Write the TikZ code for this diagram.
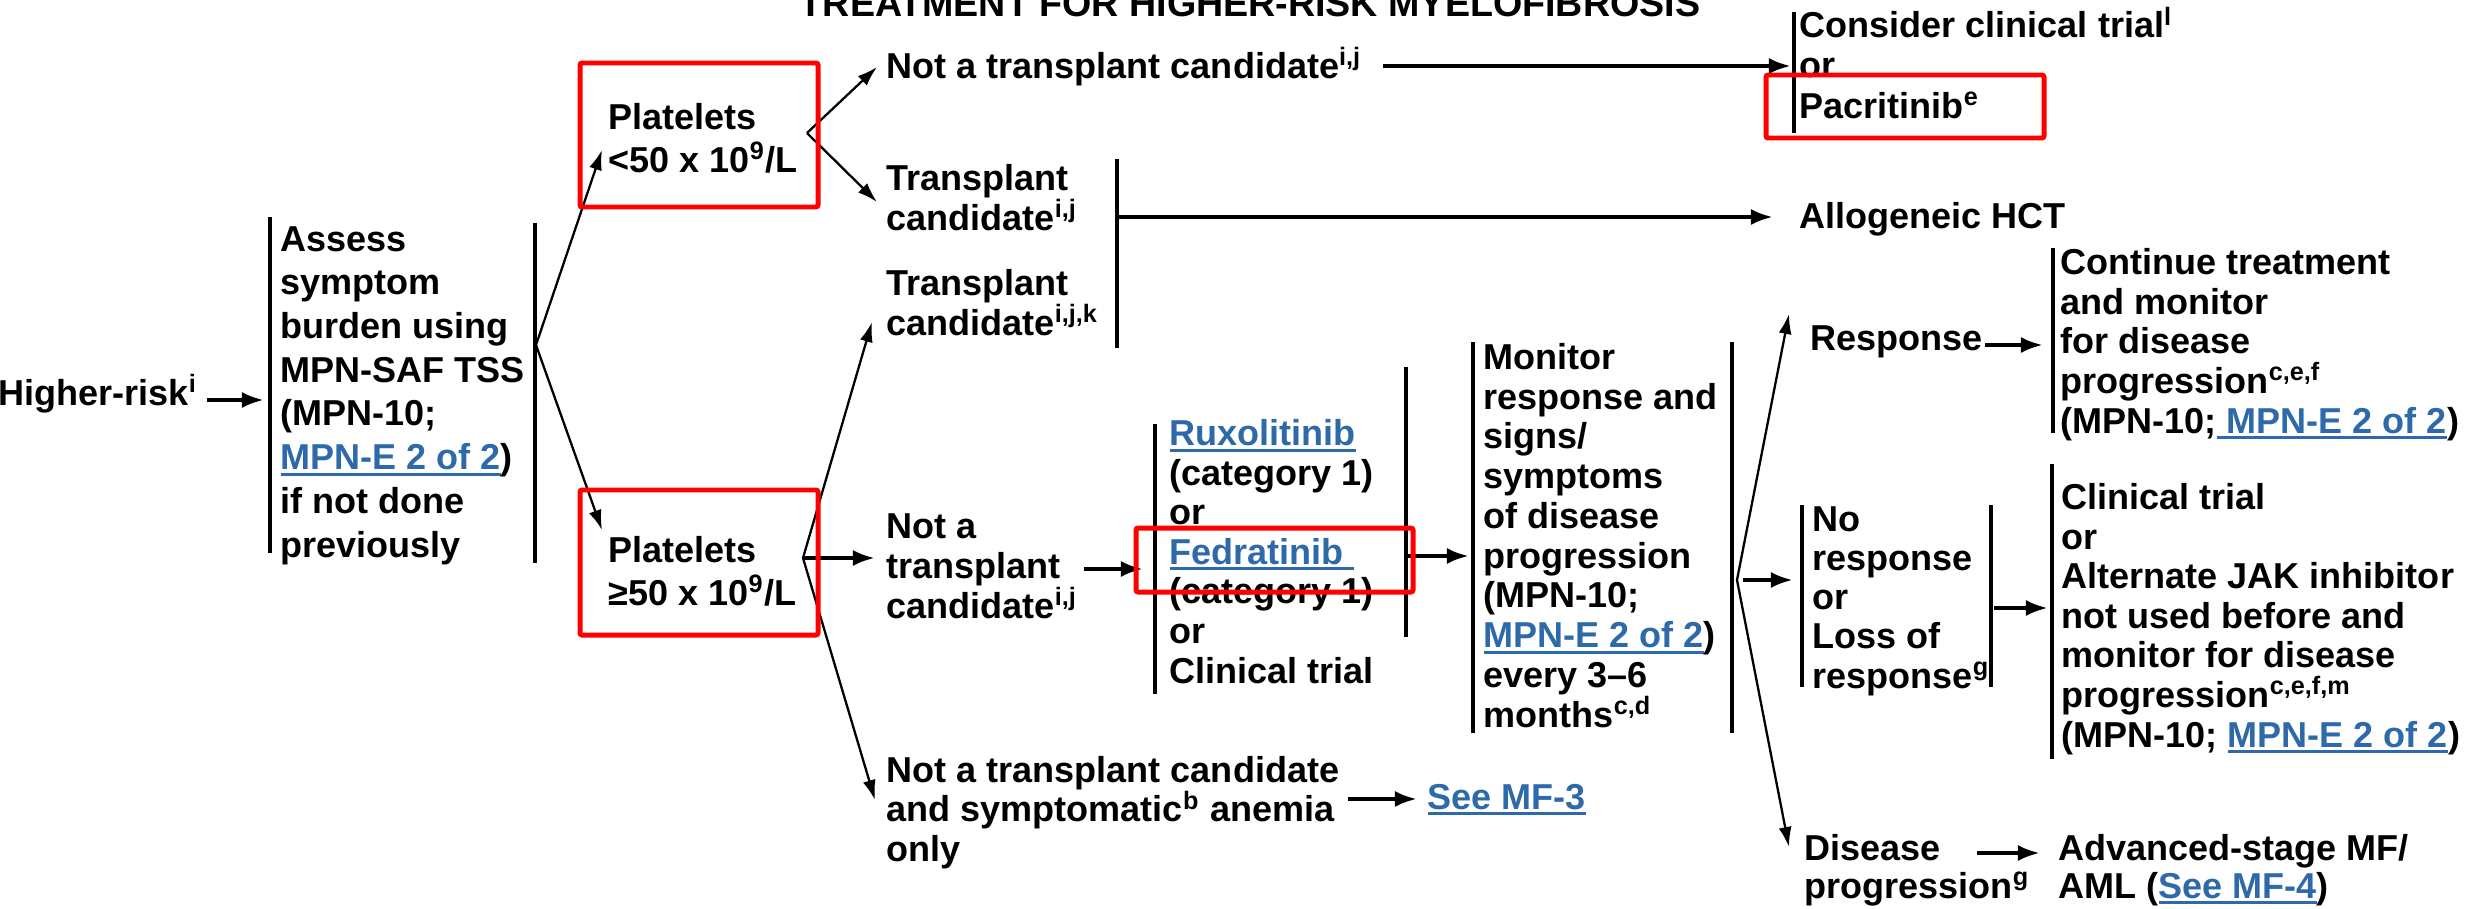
\documentclass[tikz,border=0pt]{standalone}
\usepackage{fontspec}
\setmainfont{Liberation Sans}
\usetikzlibrary{arrows.meta}
\definecolor{linkblue}{RGB}{46,106,170}
\definecolor{boxred}{RGB}{255,0,0}
% underlined blue cross-reference
\newcommand\lnk[1]{{\color{linkblue}\setbox0\hbox{#1}\rlap{\rule[-1.7pt]{\wd0}{0.85pt}}\box0}}
% multi-line text nodes are placed by the baseline of their last line
\tikzset{
  txt/.style={anchor=base west, inner sep=0pt, align=left,
              font=\bfseries\fontsize{10.245}{#1}\selectfont},
  txt/.default=11.24pt,
  ttl/.style={anchor=base, inner sep=0pt, font=\bfseries\fontsize{10.7}{12}\selectfont},
  bar/.style={line width=1.28pt},
  harrow/.style={line width=1.14pt, -{Latex[length=0.22cm,width=0.16cm]}},
  darrow/.style={line width=0.65pt, -{Latex[length=0.2cm,width=0.13cm]}},
  redbox/.style={draw=boxred, line width=1.42pt, rounded corners=0.6pt}
}
\begin{document}
\begin{tikzpicture}[x=0.01cm,y=-0.01cm]
\useasboundingbox (0,0) rectangle (2471,909);

% heading
\node[ttl] (title) at (1250,16) {TREATMENT FOR HIGHER-RISK MYELOFIBROSIS};

% text blocks
\node[txt] (hr) at (-2,405) {Higher-risk\textsuperscript{i}};
\node[txt=12.43pt] (assess) at (280,557) {Assess\\symptom\\burden using\\MPN-SAF TSS\\(MPN-10;\\\lnk{MPN-E 2 of 2})\\if not done\\previously};
\node[txt=11.95pt] (plow) at (608,172) {Platelets\\<50 x 10\textsuperscript{9}/L};
\node[txt=12.2pt] (phigh) at (608,605) {Platelets\\≥50 x 10\textsuperscript{9}/L};
\node[txt] (ntc1) at (886,78) {Not a transplant candidate\textsuperscript{i,j}};
\node[txt=11.3pt] (tc1) at (886,230) {Transplant\\candidate\textsuperscript{i,j}};
\node[txt=11.1pt] (tc2) at (886,335) {Transplant\\candidate\textsuperscript{i,j,k}};
\node[txt] (ntc2) at (886,618) {Not a\\transplant\\candidate\textsuperscript{i,j}};
\node[txt=11.1pt] (ntc3) at (886,861) {Not a transplant candidate\\and symptomatic\textsuperscript{b} anemia\\only};
\node[txt] (mf3) at (1427,809) {\lnk{See MF-3}};
\node[txt] (rux) at (1169,683) {\lnk{Ruxolitinib}\\(category 1)\\or\\\lnk{Fedratinib }\\(category 1)\\or\\Clinical trial};
\node[txt=11.3pt] (mon) at (1483,727) {Monitor\\response and\\signs/\\symptoms\\of disease\\progression\\(MPN-10;\\\lnk{MPN-E 2 of 2})\\every 3–6\\months\textsuperscript{c,d}};
\node[txt=11.38pt] (cons) at (1799,118) {Consider clinical trial\textsuperscript{l}\\or\\Pacritinib\textsuperscript{e}};
\node[txt] (allo) at (1799,228) {Allogeneic HCT};
\node[txt] (resp) at (1810,350) {Response};
\node[txt] (cont) at (2060,433) {Continue treatment\\and monitor\\for disease\\progression\textsuperscript{c,e,f}\\(MPN-10;\lnk{ MPN-E 2 of 2})};
\node[txt=11.1pt] (nores) at (1812,688) {No\\response\\or\\Loss of\\response\textsuperscript{g}};
\node[txt] (clin) at (2061,747) {Clinical trial\\or\\Alternate JAK inhibitor\\not used before and\\monitor for disease\\progression\textsuperscript{c,e,f,m}\\(MPN-10; \lnk{MPN-E 2 of 2})};
\node[txt=10.7pt] (dis) at (1804,898) {Disease\\progression\textsuperscript{g}};
\node[txt=10.7pt] (adv) at (2058,898) {Advanced-stage MF/\\AML (\lnk{See MF-4})};

% bracket bars
\draw[bar] (270,217) -- (270,553);
\draw[bar] (535,223) -- (535,563);
\draw[bar] (1117,159) -- (1117,348);
\draw[bar] (1155,424) -- (1155,694);
\draw[bar] (1406,367) -- (1406,637);
\draw[bar] (1473,342) -- (1473,733);
\draw[bar] (1732,342) -- (1732,733);
\draw[bar] (1794,12) -- (1794,133);
\draw[bar] (2053,248) -- (2053,433);
\draw[bar] (1802,505) -- (1802,687);
\draw[bar] (1991,505) -- (1991,687);
\draw[bar] (2052,464) -- (2052,759);

% branch points and arrow ends
\coordinate (vA) at (536,345);
\coordinate (vB) at (807,133);
\coordinate (vC) at (803,558);
\coordinate (vD) at (1737,580);
\coordinate (toPlow) at (602,150);
\coordinate (toPhigh) at (602,530);
\coordinate (toNtc1) at (877,67);
\coordinate (toTc1) at (877,202);
\coordinate (toTc2) at (872,322);
\coordinate (toNtc2) at (875,558);
\coordinate (toNtc3) at (875,800);
\coordinate (toResp) at (1789,314);
\coordinate (toDis) at (1789,847);
\coordinate (dRight0) at (1743,580);
\coordinate (toNores) at (1793,580);
\coordinate (hr0) at (207,400);
\coordinate (toAssess) at (264,400);
\coordinate (ntc1e) at (1383,66);
\coordinate (toCons) at (1791,66);
\coordinate (tcbar) at (1117,217);
\coordinate (toAllo) at (1773,217);
\coordinate (ntc2e) at (1084,569);
\coordinate (toRux) at (1143,569);
\coordinate (ruxbar) at (1408,556);
\coordinate (toMon) at (1469,556);
\coordinate (respe) at (1985,345);
\coordinate (toCont) at (2043,345);
\coordinate (noresbar) at (1994,608);
\coordinate (toClin) at (2048,608);
\coordinate (dise) at (1977,853);
\coordinate (toAdv) at (2040,853);
\coordinate (ntc3e) at (1348,799);
\coordinate (toMf3) at (1417,799);

% diagonal branches
\draw[darrow] (vA) -- (toPlow);
\draw[darrow] (vA) -- (toPhigh);
\draw[darrow] (vB) -- (toNtc1);
\draw[darrow] (vB) -- (toTc1);
\draw[darrow] (vC) -- (toTc2);
\draw[darrow] (vC) -- (toNtc3);
\draw[darrow] (vD) -- (toResp);
\draw[darrow] (vD) -- (toDis);

% straight arrows
\draw[harrow] (vC) -- (toNtc2);
\draw[harrow] (dRight0) -- (toNores);
\draw[harrow] (hr0) -- (toAssess);
\draw[harrow] (ntc1e) -- (toCons);
\draw[harrow] (tcbar) -- (toAllo);
\draw[harrow] (ntc2e) -- (toRux);
\draw[harrow] (ruxbar) -- (toMon);
\draw[harrow] (respe) -- (toCont);
\draw[harrow] (noresbar) -- (toClin);
\draw[harrow] (dise) -- (toAdv);
\draw[harrow] (ntc3e) -- (toMf3);

% red highlight frames
\draw[redbox] (580,63) rectangle (818,207);
\draw[redbox] (580,490) rectangle (818,635);
\draw[redbox] (1766,75) rectangle (2044,138);
\draw[redbox] (1136,528) rectangle (1413,592);
\end{tikzpicture}
\end{document}
